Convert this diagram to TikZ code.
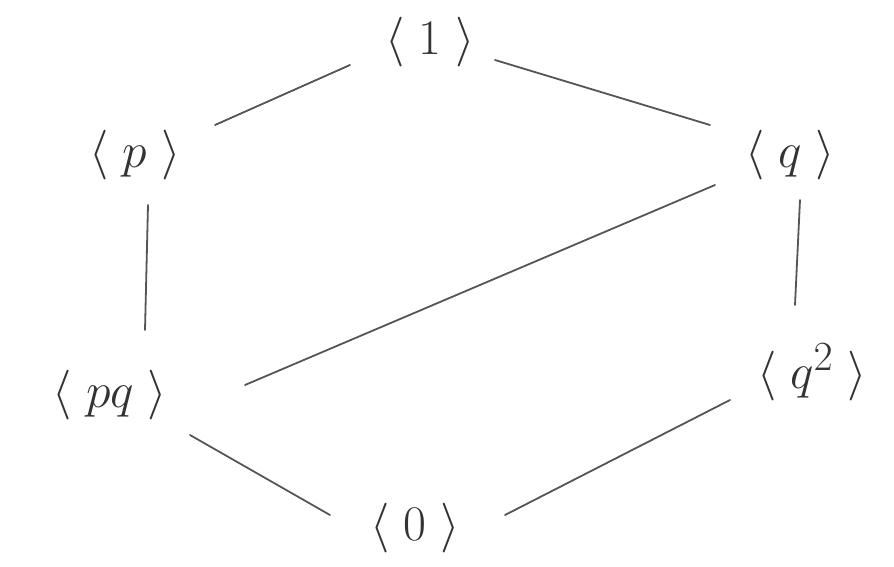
\documentclass[tikz,border=0pt]{standalone}
\usepackage{graphicx}
\definecolor{ink}{HTML}{333333}
\definecolor{ln}{HTML}{555555}
\newcommand{\lab}[1]{\scalebox{2}{\Huge$\langle\mkern5mu#1\mkern5mu\rangle$}}
\begin{document}
\begin{tikzpicture}[x=1pt,y=-1pt,
  lbl/.style={text=ink, inner sep=0pt},
  edge/.style={draw=ln, line width=1.8pt, line cap=round}]
\useasboundingbox (0,0) rectangle (894,567);
\node[lbl] (one) at (430,42) {\lab{1}};
\node[lbl] (p) at (135,155) {\lab{p}};
\node[lbl] (q) at (790,155) {\lab{q}};
\node[lbl] (pq) at (110,395) {\lab{pq}};
\node[lbl] (q2) at (812,372) {\lab{q^2}};
\node[lbl] (zero) at (415,528) {\lab{0}};
\draw[edge] ([shift={(-80,23)}]one.center) -- ([shift={(80,-30)}]p.center);
\draw[edge] ([shift={(65,18)}]one.center) -- ([shift={(-80,-30)}]q.center);
\draw[edge] ([shift={(13,50)}]p.center) -- ([shift={(35,-65)}]pq.center);
\draw[edge] ([shift={(-75,30)}]q.center) -- ([shift={(135,-10)}]pq.center);
\draw[edge] ([shift={(10,45)}]q.center) -- ([shift={(-17,-67)}]q2.center);
\draw[edge] ([shift={(80,40)}]pq.center) -- ([shift={(-85,-13)}]zero.center);
\draw[edge] ([shift={(-82,28)}]q2.center) -- ([shift={(90,-13)}]zero.center);
\end{tikzpicture}
\end{document}
